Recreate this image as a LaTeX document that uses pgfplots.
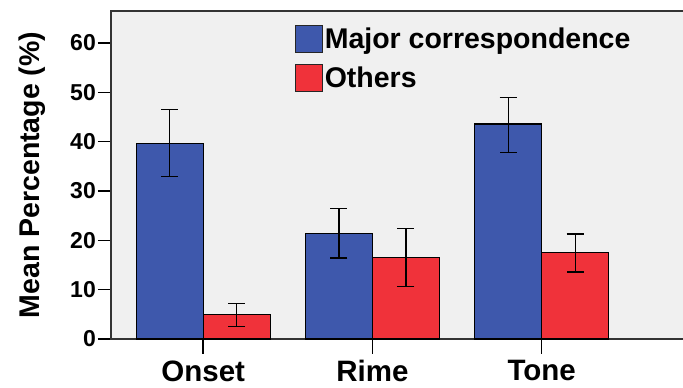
\documentclass[border=0pt]{standalone}
\usepackage{fontspec}
\setmainfont{Liberation Sans}
\usepackage{pgfplots}
\pgfplotsset{compat=1.18}
\definecolor{barblue}{RGB}{62,88,172}
\definecolor{barred}{RGB}{240,50,58}
\definecolor{plotbg}{RGB}{240,240,240}
\pgfplotsset{
  mylegend/.style={legend image code/.code={\draw[##1,line width=1.2pt,draw=black!85] (0pt,-13.5pt) rectangle (27pt,13.5pt);}}
}
\begin{document}
\begin{tikzpicture}
\begin{axis}[
  scale only axis,
  clip=false,
  width=573pt, height=328pt,
  xmin=-0.545, xmax=2.841,
  ymin=0, ymax=66.5,
  ybar=0pt, bar width=67pt,
  axis line style={line width=1.6pt, black!80},
  axis background/.style={fill=plotbg},
  xtick={0,1,2}, xticklabels={Onset,Rime,Tone},
  ytick={0,10,...,60},
  xtick pos=left, ytick pos=left,
  tick align=outside,
  major tick length=13pt,
  every tick/.style={line width=1.4pt, draw=black},
  /pgf/number format/assume math mode=true,
  yticklabel style={font=\bfseries\fontsize{23}{23}\selectfont, inner sep=2pt},
  xticklabel style={font=\bfseries\fontsize{29.5}{29.5}\selectfont, yshift=-5pt},
  ylabel={Mean Percentage (\%)},
  every axis y label/.style={at={(axis description cs:0,0.5)}, xshift=-79pt, rotate=90, anchor=center, font=\bfseries\fontsize{28.5}{28.5}\selectfont},
  legend style={draw=none, fill=none, at={(rel axis cs:0.32,0.958)}, anchor=north west,
    font=\bfseries\fontsize{28.5}{28.5}\selectfont, row sep=11pt, inner sep=0pt},
  legend cell align=left,
  error bars/y dir=both, error bars/y explicit,
  error bars/error bar style={line width=1.3pt, black},
  error bars/error mark options={rotate=90, mark size=8.5pt, line width=1.3pt, black},
]
\addplot[fill=barblue, draw=black, line width=1.2pt, mylegend] coordinates {
  (0,39.7) += (0,6.8) -= (0,6.8)
  (1,21.4) += (0,5.1) -= (0,5.0)
  (2,43.6) += (0,5.4) -= (0,5.8)
};
\addplot[fill=barred, draw=black, line width=1.2pt, mylegend] coordinates {
  (0,4.9) += (0,2.3) -= (0,2.3)
  (1,16.5) += (0,5.9) -= (0,5.9)
  (2,17.5) += (0,3.8) -= (0,3.9)
};
\legend{Major correspondence, Others}
\coordinate (tA) at (axis cs:0,0);
\coordinate (tB) at (axis cs:1,0);
\coordinate (tC) at (axis cs:2,0);
\end{axis}
\draw[line width=1.5pt, draw=black] (tA) -- ++(0pt,-15pt);
\draw[line width=1.5pt, draw=black] (tB) -- ++(0pt,-15pt);
\draw[line width=1.5pt, draw=black] (tC) -- ++(0pt,-15pt);
\pgfresetboundingbox
\path[use as bounding box] ([xshift=-111pt,yshift=-48pt]current axis.south west) rectangle ([xshift=-1pt,yshift=11pt]current axis.north east);
\end{tikzpicture}
\end{document}
